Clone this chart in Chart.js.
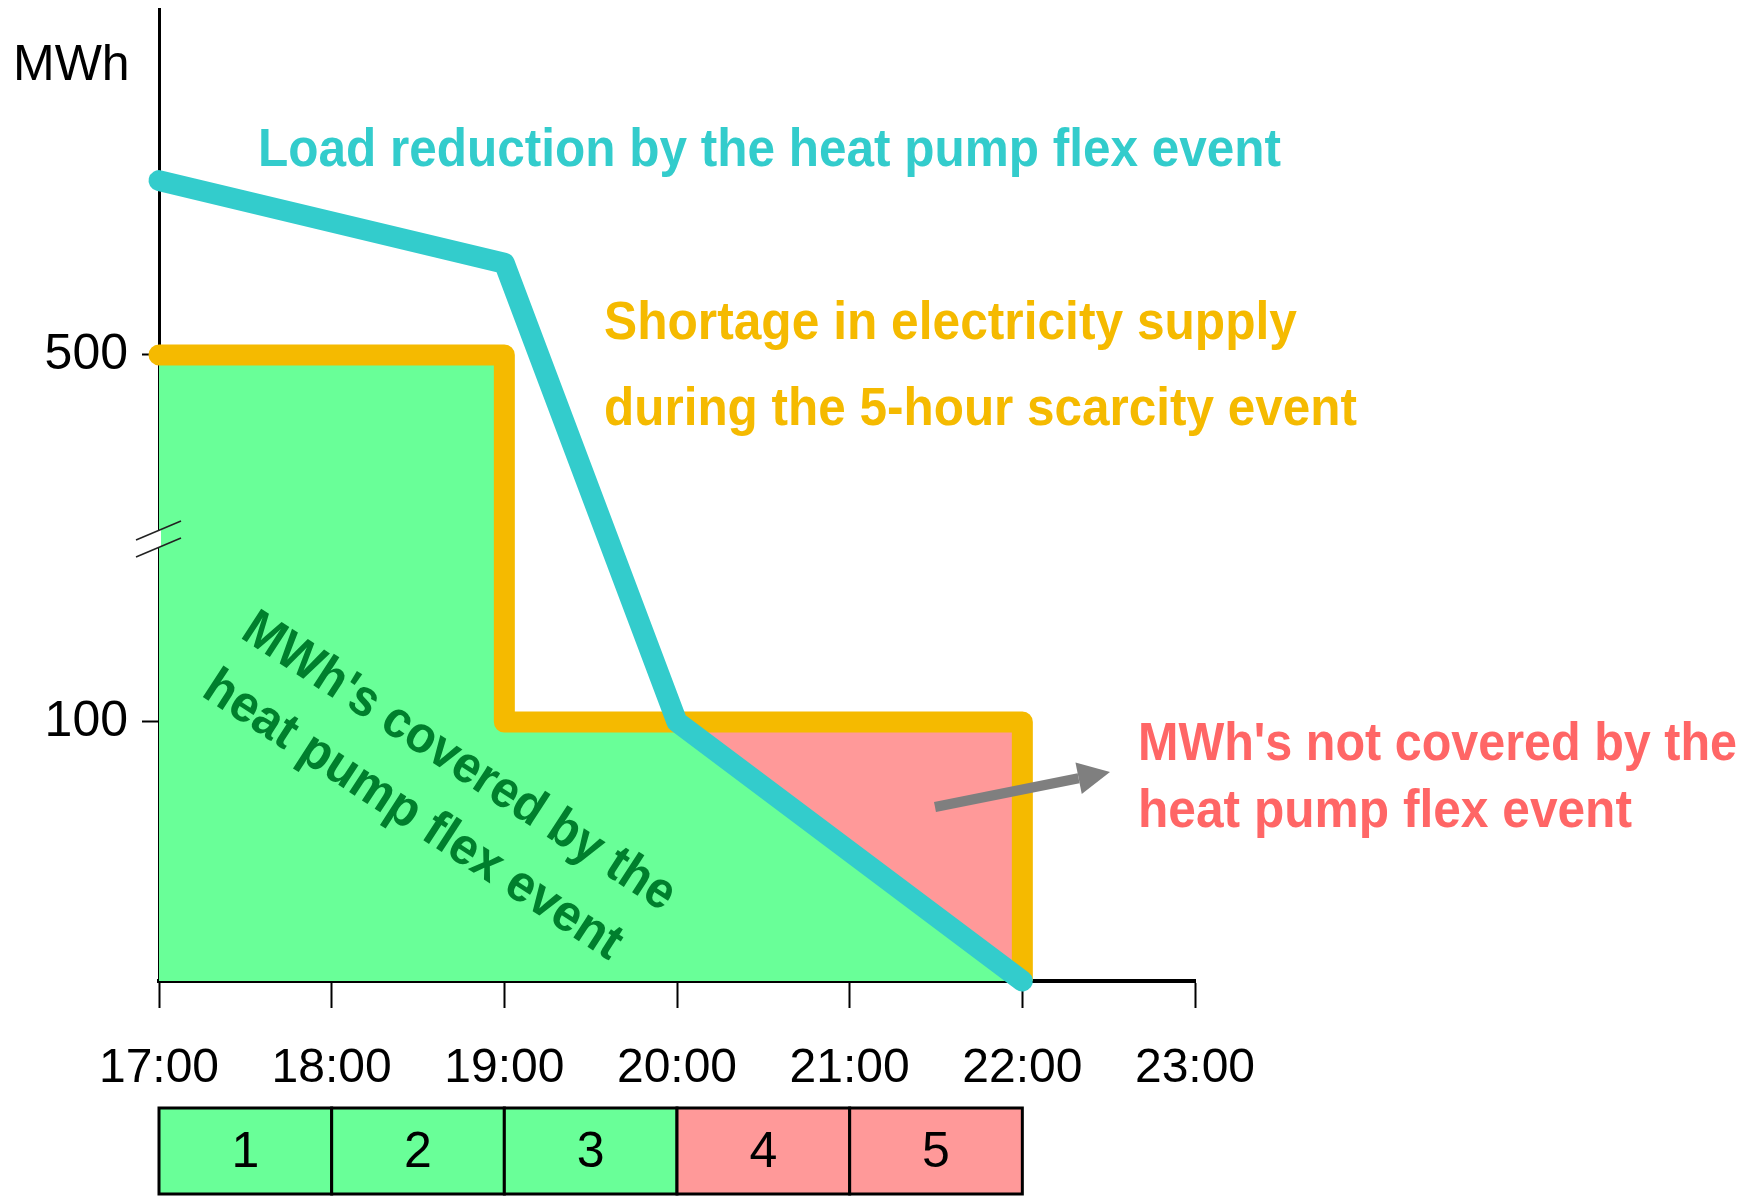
<!DOCTYPE html>
<html>
<head>
<meta charset="utf-8">
<script src="https://cdn.jsdelivr.net/npm/chart.js@4.4.1/dist/chart.umd.min.js"></script>
<style>
  html, body { margin: 0; padding: 0; background: #fff; }
  #wrap { position: relative; width: 1747px; height: 1196px; }
</style>
</head>
<body>
<div id="wrap"><canvas id="flexChart"></canvas></div>
<script>
// x axis: hour of day
const hourTicks = [17, 18, 19, 20, 21, 22, 23];
// y axis (broken): ticks and break
const yTicks = [100, 500];
const yLowerTop = 100;
const yBreakValue = 300;
const yAxisMax = 877;

// shortage in electricity supply (orange step line)
const shortageX = [17, 19, 19, 22, 22];
const shortageY = [500, 500, 100, 100, 0];
// load reduction by the heat pump flex event (teal line)
const reductionX = [17, 19, 20, 22];
const reductionY = [690, 600, 100, 0];
// MWh covered (green area) / not covered (red area)
const coveredX = [17, 19, 19, 20, 22];
const coveredY = [500, 500, 100, 100, 0];
const uncoveredX = [20, 22, 22];
const uncoveredY = [100, 100, 0];

// hours of the scarcity event
const periods = ['1', '2', '3', '4', '5'];
const periodCovered = [true, true, true, false, false];

const TEAL = '#33CCCC';
const ORANGE = '#F5BA00';
const GREEN_FILL = '#69FF98';
const RED_FILL = '#FF9999';
const RED_TEXT = '#FF6666';
const GREEN_TEXT = '#007F2D';

const toPoints = (xs, ys) => xs.map((x, i) => ({ x: x, y: ys[i] }));

// 下側 0-100 を拡大表示する折れ軸
const LOWER_SHARE = 0.2665;
class BrokenLinearScale extends Chart.LinearScale {
    getPixelForValue(value) {
        let dec;
        if (value <= yLowerTop) {
            dec = value / yLowerTop * LOWER_SHARE;
        } else {
            dec = LOWER_SHARE + (value - yLowerTop) / (this.max - yLowerTop) * (1 - LOWER_SHARE);
        }
        return this.getPixelForDecimal(dec);
    }
    getValueForPixel(pixel) {
        const dec = this.getDecimalForPixel(pixel);
        if (dec <= LOWER_SHARE) return dec / LOWER_SHARE * yLowerTop;
        return yLowerTop + (dec - LOWER_SHARE) / (1 - LOWER_SHARE) * (this.max - yLowerTop);
    }
}
BrokenLinearScale.id = 'brokenLinear';
BrokenLinearScale.defaults = Chart.LinearScale.defaults;
Chart.register(BrokenLinearScale);

Chart.defaults.font.family = "'Liberation Sans', Arial, sans-serif";
Chart.defaults.color = '#000';

const BOLD = "bold 54px 'Liberation Sans', sans-serif";

// 幅を合わせて横方向に詰めて描く
function fitText(ctx, text, x, y, width) {
    const w = ctx.measureText(text).width;
    ctx.save();
    ctx.translate(x, y);
    ctx.scale(width / w, 1);
    ctx.fillText(text, 0, 0);
    ctx.restore();
}

function drawArrow(ctx, x1, y1, x2, y2) {
    const ang = Math.atan2(y2 - y1, x2 - x1);
    const headLen = 32, headHalf = 16;
    const bx = x2 - headLen * Math.cos(ang), by = y2 - headLen * Math.sin(ang);
    ctx.strokeStyle = '#7F7F7F';
    ctx.fillStyle = '#7F7F7F';
    ctx.lineWidth = 10;
    ctx.beginPath();
    ctx.moveTo(x1, y1);
    ctx.lineTo(bx, by);
    ctx.stroke();
    ctx.beginPath();
    ctx.moveTo(x2, y2);
    ctx.lineTo(bx + headHalf * Math.sin(ang), by - headHalf * Math.cos(ang));
    ctx.lineTo(bx - headHalf * Math.sin(ang), by + headHalf * Math.cos(ang));
    ctx.closePath();
    ctx.fill();
}

const decorPlugin = {
    id: 'decor',
    afterDraw(chart) {
        const ctx = chart.ctx;
        const xs = chart.scales.x;
        const ys = chart.scales.y;
        const area = chart.chartArea;
        ctx.save();

        // 軸の省略記号
        const by = ys.getPixelForValue(yBreakValue);
        const ax = area.left;
        ctx.fillStyle = '#fff';
        ctx.beginPath();
        ctx.moveTo(ax - 3, by - 7);
        ctx.lineTo(ax + 2, by - 9);
        ctx.lineTo(ax + 2, by + 8);
        ctx.lineTo(ax - 3, by + 10);
        ctx.closePath();
        ctx.fill();
        ctx.strokeStyle = '#222';
        ctx.lineWidth = 1.5;
        [-8.5, 8.5].forEach(off => {
            ctx.beginPath();
            ctx.moveTo(ax - 23, by + off + 10);
            ctx.lineTo(ax + 22, by + off - 9);
            ctx.stroke();
        });

        // 単位
        ctx.fillStyle = '#000';
        ctx.font = "50px 'Liberation Sans', sans-serif";
        ctx.textAlign = 'left';
        ctx.textBaseline = 'alphabetic';
        ctx.fillText('MWh', 13, 80);

        // 注釈
        ctx.font = BOLD;
        ctx.fillStyle = TEAL;
        fitText(ctx, 'Load reduction by the heat pump flex event', 258, 166, 1023);
        ctx.fillStyle = ORANGE;
        fitText(ctx, 'Shortage in electricity supply', 604, 339, 693);
        fitText(ctx, 'during the 5-hour scarcity event', 604, 425, 753);
        ctx.fillStyle = RED_TEXT;
        fitText(ctx, "MWh's not covered by the", 1138, 760, 599);
        fitText(ctx, 'heat pump flex event', 1138, 827, 494);

        drawArrow(ctx, 935, 807, 1110, 772);

        ctx.save();
        ctx.translate(239, 637);
        ctx.rotate(33 * Math.PI / 180);
        ctx.fillStyle = GREEN_TEXT;
        ctx.font = "bold 52px 'Liberation Sans', sans-serif";
        fitText(ctx, "MWh's covered by the", 0, 0, 505);
        fitText(ctx, 'heat pump flex event', -1, 70, 488);
        ctx.restore();

        // 時間帯ボックス
        const top = 1108, bottom = 1194;
        ctx.lineWidth = 3;
        ctx.strokeStyle = '#000';
        periods.forEach((p, i) => {
            const x0 = xs.getPixelForValue(hourTicks[i]);
            const x1 = xs.getPixelForValue(hourTicks[i + 1]);
            ctx.fillStyle = periodCovered[i] ? GREEN_FILL : RED_FILL;
            ctx.fillRect(x0, top, x1 - x0, bottom - top);
            ctx.strokeRect(x0, top, x1 - x0, bottom - top);
            ctx.fillStyle = '#000';
            ctx.font = "50px 'Liberation Sans', sans-serif";
            ctx.textAlign = 'center';
            ctx.textBaseline = 'middle';
            ctx.fillText(p, (x0 + x1) / 2, (top + bottom) / 2 + 2);
        });

        ctx.restore();
    }
};

const ctx = document.getElementById('flexChart').getContext('2d');
const flexChart = new Chart(ctx, {
    type: 'line',
    data: {
        datasets: [
            {
                label: 'Load reduction',
                data: toPoints(reductionX, reductionY),
                borderColor: TEAL,
                borderWidth: 21,
                borderCapStyle: 'round',
                borderJoinStyle: 'round',
                pointRadius: 0,
                fill: false,
                clip: { left: 20, top: 20, right: 20, bottom: 20 },
                order: 0
            },
            {
                label: 'Shortage',
                data: toPoints(shortageX, shortageY),
                borderColor: ORANGE,
                borderWidth: 21,
                borderCapStyle: 'round',
                borderJoinStyle: 'round',
                pointRadius: 0,
                fill: false,
                clip: { left: 20, top: 20, right: 20, bottom: 0 },
                order: 1
            },
            {
                label: 'Covered',
                data: toPoints(coveredX, coveredY),
                borderWidth: 0,
                backgroundColor: GREEN_FILL,
                pointRadius: 0,
                fill: 'origin',
                order: 2
            },
            {
                label: 'Not covered',
                data: toPoints(uncoveredX, uncoveredY),
                borderWidth: 0,
                backgroundColor: RED_FILL,
                pointRadius: 0,
                fill: 'origin',
                order: 3
            }
        ]
    },
    options: {
        responsive: true,
        maintainAspectRatio: false,
        animation: false,
        layout: {
            padding: { top: 9, right: 552, bottom: 0, left: 0 }
        },
        plugins: {
            legend: { display: false },
            tooltip: { enabled: false }
        },
        scales: {
            x: {
                type: 'linear',
                min: hourTicks[0],
                max: hourTicks[hourTicks.length - 1],
                afterBuildTicks: scale => { scale.ticks = hourTicks.map(v => ({ value: v })); },
                afterFit: scale => { scale.height = 215; },
                ticks: {
                    padding: 32,
                    font: { size: 48 },
                    color: '#000',
                    maxRotation: 0,
                    callback: v => v + ':00'
                },
                grid: {
                    drawOnChartArea: false,
                    drawTicks: true,
                    tickLength: 27,
                    tickWidth: 2,
                    tickColor: '#000'
                },
                border: { display: true, color: '#000', width: 4 }
            },
            y: {
                type: 'brokenLinear',
                min: 0,
                max: yAxisMax,
                afterBuildTicks: scale => { scale.ticks = yTicks.map(v => ({ value: v })); },
                afterFit: scale => {
                    scale.width = 159;
                    scale.paddingTop = 0;
                    scale.paddingBottom = 0;
                },
                ticks: {
                    padding: 14,
                    font: { size: 50 },
                    color: '#000',
                    callback: v => String(v)
                },
                grid: {
                    drawOnChartArea: false,
                    drawTicks: true,
                    tickLength: 17,
                    tickWidth: 2,
                    tickColor: '#000'
                },
                border: { display: true, color: '#000', width: 3 }
            }
        }
    },
    plugins: [decorPlugin]
});
</script>
</body>
</html>
